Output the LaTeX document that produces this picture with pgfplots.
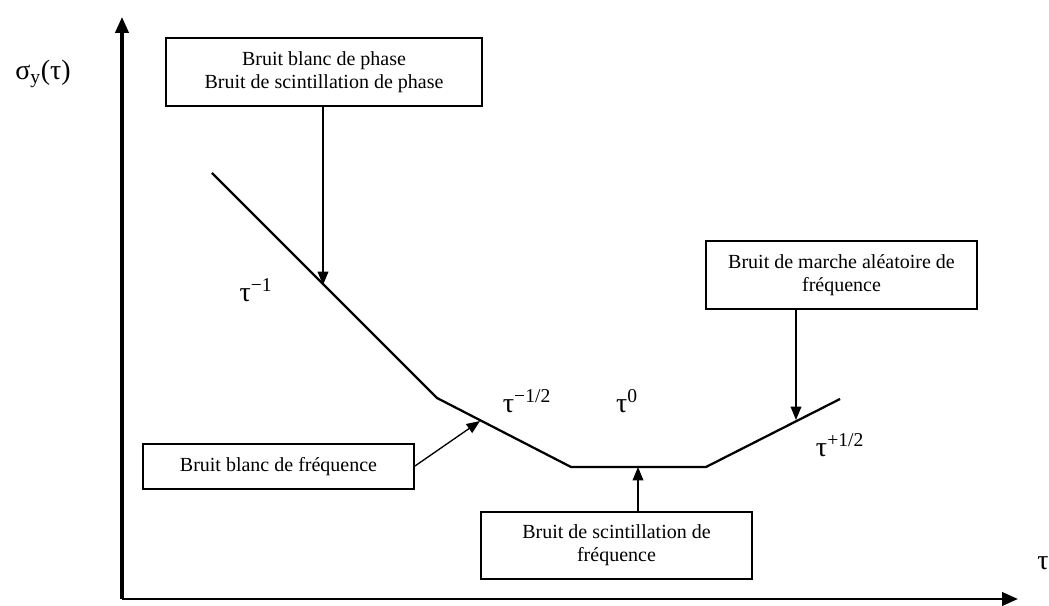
\documentclass[border=0pt]{standalone}
\usepackage{fontspec}
\setmainfont{Liberation Serif}
\usepackage{pgfplots}
\pgfplotsset{compat=1.18}
\usetikzlibrary{arrows.meta}

\begin{document}
\begin{tikzpicture}[
  box/.style={draw, line width=1.5pt, inner sep=0pt, align=center,
    font=\fontsize{15}{17.3}\selectfont},
  lbl/.style={inner sep=0pt, font=\fontsize{21}{24}\selectfont},
  pointer/.style={line width=1pt, -{Triangle[length=10pt,width=8pt]}},
]
\begin{axis}[
  x=0.75pt, y=0.75pt,
  xmin=122, xmax=1018, ymin=2, ymax=584,
  axis lines=left,
  every outer x axis line/.append style={line width=2.2pt, -{Triangle[length=12pt,width=10pt]}},
  every outer y axis line/.append style={line width=2.4pt, -{Triangle[length=12pt,width=10pt]}},
  xtick=\empty, ytick=\empty,
  clip=false,
]
% pente -1, -1/2, 0, +1/2 (coordonnees en px, y vers le haut)
\addplot[black, line width=1.7pt, mark=none] coordinates {
  (212,428) (437,203) (571,134) (706,134) (840,202)
};

\path (axis cs:0,0) rectangle (axis cs:1049,601);

\node[lbl] at (axis cs:43,527) {σ\textsubscript{y}(τ)};
\node[lbl] at (axis cs:1043,38) {τ};
\node[lbl] at (axis cs:256,311) {τ\textsuperscript{−1}};
\node[lbl] at (axis cs:527,200) {τ\textsuperscript{−1/2}};
\node[lbl] at (axis cs:627,200) {τ\textsuperscript{0}};
\node[lbl] at (axis cs:840,156) {τ\textsuperscript{+1/2}};

\node[box, minimum width=237pt, minimum height=51pt] at (axis cs:324,529)
  {Bruit blanc de phase\\Bruit de scintillation de phase};
\draw[pointer] (axis cs:323,495) -- (axis cs:323,316);

\node[box, minimum width=203.25pt, minimum height=33.75pt] at (axis cs:278.5,134.5)
  {Bruit blanc de fréquence};
\draw[pointer] (axis cs:415,135) -- (axis cs:480,180);

\node[box, minimum width=203.25pt, minimum height=50.25pt] at (axis cs:616.5,55.5)
  {Bruit de scintillation de\\fréquence};
\draw[pointer] (axis cs:638,89) -- (axis cs:638,134);

\node[box, minimum width=203.25pt, minimum height=51pt] at (axis cs:841.5,326)
  {Bruit de marche aléatoire de\\fréquence};
\draw[pointer] (axis cs:796,292) -- (axis cs:796,181);
\end{axis}
\end{tikzpicture}
\end{document}
